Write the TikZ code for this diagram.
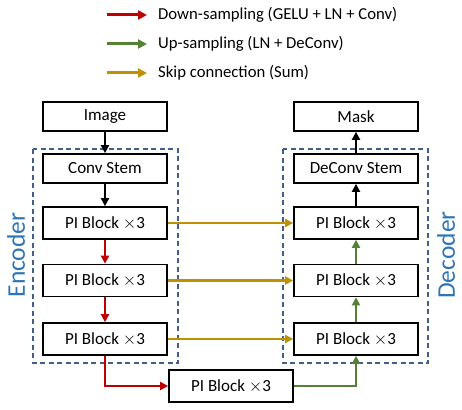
\documentclass[tikz,border=0pt]{standalone}
\usetikzlibrary{arrows.meta,positioning}
\usepackage{fontspec}
\setmainfont{Carlito}

\definecolor{downred}{RGB}{192,0,0}
\definecolor{upgreen}{RGB}{84,130,53}
\definecolor{skipgold}{RGB}{191,144,0}
\definecolor{framegray}{RGB}{68,94,140}
\definecolor{labelblue}{RGB}{46,117,182}

\newcommand{\piblock}{PI Block ${\times}$3}

\tikzset{
  blk/.style={draw,line width=1.7pt,minimum width=124pt,minimum height=32pt,
    inner sep=0pt,font=\fontsize{17}{20}\selectfont},
  endblk/.style={blk,minimum height=29pt},
  legtxt/.style={anchor=west,inner sep=0pt,font=\fontsize{16.7}{20}\selectfont},
  flow/.style={line width=2.2pt,-{Triangle[length=8pt,width=8pt]}},
  legarr/.style={line width=3pt,-{Triangle[length=9pt,width=9pt]}},
  frame/.style={draw=framegray,line width=1.4pt,dash pattern=on 5pt off 3.5pt},
  part/.style={text=labelblue,rotate=90,inner sep=0pt,font=\fontsize{25.5}{30}\selectfont}
}

\begin{document}
\begin{tikzpicture}[x=1pt,y=-1pt]
\useasboundingbox (0,0) rectangle (462,409);
% legend
\coordinate (d0) at (107,15);  \coordinate (d1) at (147,15);
\coordinate (u0) at (107,44);  \coordinate (u1) at (147,44);
\coordinate (s0) at (107,73);  \coordinate (s1) at (147,73);
\draw[legarr,downred] (d0) -- (d1);
\draw[legarr,upgreen] (u0) -- (u1);
\draw[legarr,skipgold] (s0) -- (s1);
\node[legtxt] (dtxt) at (158,15) {Down-sampling (GELU + LN + Conv)};
\node[legtxt] (utxt) at (158,44) {Up-sampling (LN + DeConv)};
\node[legtxt] (stxt) at (158,73) {Skip connection (Sum)};

% dashed frames
\draw[frame] (33,149) rectangle (178,363);
\draw[frame] (283,149) rectangle (428,363);
\node[part] (enc) at (16,255) {Encoder};
\node[part] (dec) at (446,255) {Decoder};

% encoder
\node[endblk] (img)  at (105,116.5) {Image};
\node[endblk] (stem) at (105,168.5) {Conv Stem};
\node[blk] (e1) at (105,223) {\piblock};
\node[blk] (e2) at (105,280.5) {\piblock};
\node[blk] (e3) at (105,339) {\piblock};
% bottleneck
\node[blk] (mid) at (231,386) {\piblock};
% decoder
\node[endblk] (mask)  at (356,116.5) {Mask};
\node[endblk] (dstem) at (356,168.5) {DeConv Stem};
\node[blk] (d1b) at (356,223) {\piblock};
\node[blk] (d2b) at (356,280.5) {\piblock};
\node[blk] (d3b) at (356,339) {\piblock};

% connections
\draw[flow] (img) -- (stem);
\draw[flow] (stem) -- (e1);
\draw[flow,downred] (e1) -- (e2);
\draw[flow,downred] (e2) -- (e3);
\draw[flow,downred] (e3.south) |- (mid.west);
\draw[flow,upgreen] (mid.east) -| (d3b.south);
\draw[flow,upgreen] (d3b) -- (d2b);
\draw[flow,upgreen] (d2b) -- (d1b);
\draw[flow] (d1b) -- (dstem);
\draw[flow] (dstem) -- (mask);
\draw[flow,skipgold] (e1) -- (d1b);
\draw[flow,skipgold] (e2) -- (d2b);
\draw[flow,skipgold] (e3) -- (d3b);
\end{tikzpicture}
\end{document}
